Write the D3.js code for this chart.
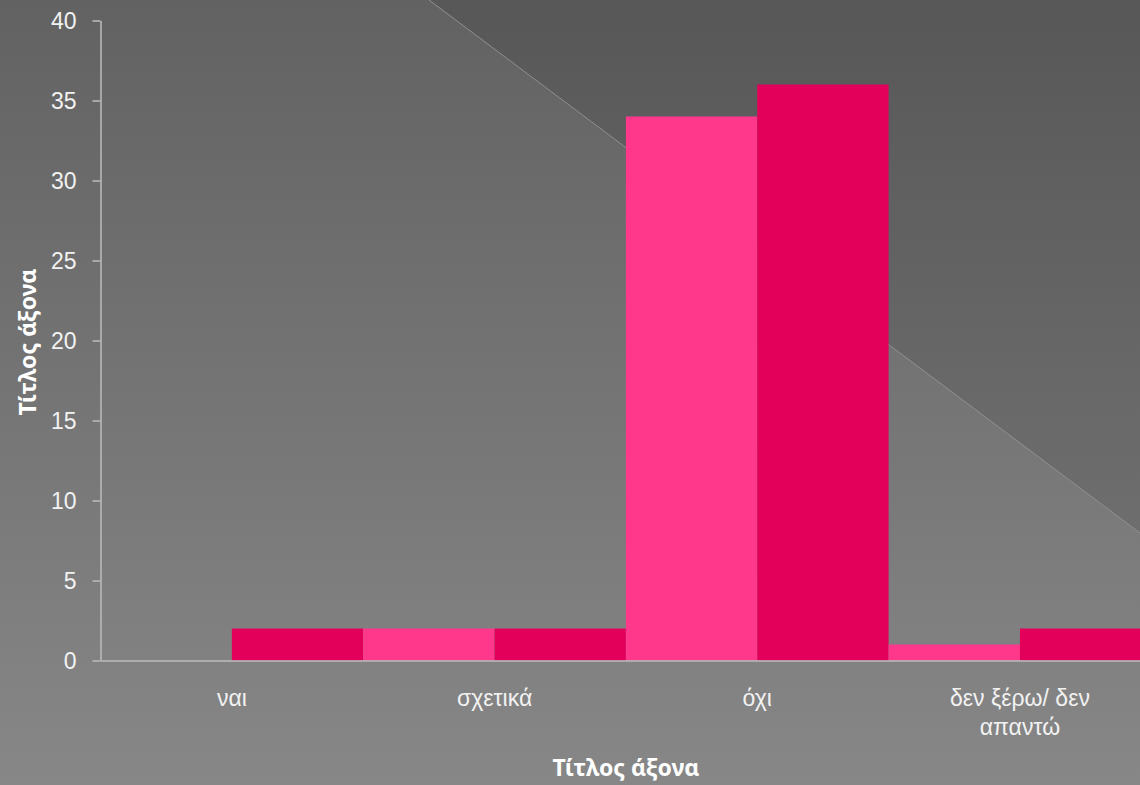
<!doctype html>
<html>
<head>
<meta charset="utf-8">
<style>
  body { margin: 0; background: #777; overflow: hidden; }
  svg { display: block; font-family: "Noto Sans", "DejaVu Sans", sans-serif; }
  .tick text { fill: #f2f2f2; font-size: 23px; }
  .domain, .tick line { stroke: #bdbdbd; stroke-width: 1.5px; }
  .title { fill: #ffffff; font-size: 23px; font-weight: bold; }
</style>
<script src="https://d3js.org/d3.v7.min.js"></script>
</head>
<body>
<div id="chart"></div>
<script>
var categories = ["ναι", "σχετικά", "όχι", "δεν ξέρω/ δεν απαντώ"];
var seriesA = [0, 2, 34, 1];
var seriesB = [2, 2, 36, 2];
var yTicks = [0, 5, 10, 15, 20, 25, 30, 35, 40];
var seriesNames = ["A", "B"];
var colors = ["#ff388c", "#e3005a"];

var W = 1140, H = 785;
var plotLeft = 100.5, bandW = 262.7, plotTop = 20.5, plotBottom = 660.5;

var svg = d3.select("#chart").append("svg")
  .attr("width", W).attr("height", H);

// background
var defs = svg.append("defs");
var bg = defs.append("linearGradient").attr("id", "bg")
  .attr("x1", 0).attr("y1", 0).attr("x2", 0).attr("y2", 1);
bg.append("stop").attr("offset", "0%").attr("stop-color", "#626262");
bg.append("stop").attr("offset", "100%").attr("stop-color", "#878787");
svg.append("rect").attr("width", W).attr("height", H).attr("fill", "url(#bg)");

// darker diagonal area top right
svg.append("polygon")
  .attr("points", "429,0 1140,0 1140,533")
  .attr("fill", "rgba(0,0,0,0.1)");
svg.append("line")
  .attr("x1", 429).attr("y1", 0).attr("x2", 1140).attr("y2", 533)
  .attr("stroke", "#909090").attr("stroke-width", 1);

var data = categories.map(function(c, i) {
  return { cat: c, values: [seriesA[i], seriesB[i]] };
});

var x = d3.scaleBand()
  .domain(categories)
  .range([plotLeft, plotLeft + bandW * categories.length])
  .padding(0);

var xs = d3.scaleBand()
  .domain(seriesNames)
  .range([0, x.bandwidth()])
  .padding(0);

var y = d3.scaleLinear()
  .domain([0, 40])
  .range([plotBottom, plotTop]);

// bars
var groups = svg.selectAll("g.cat")
  .data(data)
  .enter().append("g")
    .attr("class", "cat")
    .attr("transform", function(d) { return "translate(" + x(d.cat) + ",0)"; });

groups.selectAll("rect")
  .data(function(d) { return d.values.map(function(v, j) { return { s: seriesNames[j], v: v, j: j }; }); })
  .enter().append("rect")
    .attr("x", function(d) { return xs(d.s); })
    .attr("width", xs.bandwidth())
    .attr("y", function(d) { return y(d.v); })
    .attr("height", function(d) { return y(0) - y(d.v); })
    .attr("fill", function(d) { return colors[d.j]; });

// y axis
var yAxis = svg.append("g")
  .attr("transform", "translate(" + plotLeft + ",0)")
  .call(d3.axisLeft(y).tickValues(yTicks).tickSize(8).tickPadding(16).tickSizeOuter(0));
yAxis.selectAll(".tick text").attr("dy", "0.34em");

// x axis
var xAxis = svg.append("g")
  .attr("transform", "translate(0," + plotBottom + ")")
  .call(d3.axisBottom(x).tickSize(0).tickSizeOuter(0).tickPadding(29));
xAxis.selectAll(".tick text").call(wrap, 210);

function wrap(sel, width) {
  sel.each(function() {
    var t = d3.select(this);
    var words = t.text().split(/\s+/);
    var yAttr = t.attr("y"), dy = parseFloat(t.attr("dy"));
    t.text(null);
    var line = [], lineNo = 0;
    var tspan = t.append("tspan").attr("x", 0).attr("y", yAttr).attr("dy", dy + "em");
    words.forEach(function(w) {
      line.push(w);
      tspan.text(line.join(" "));
      if (tspan.node().getComputedTextLength() > width && line.length > 1) {
        line.pop();
        tspan.text(line.join(" "));
        line = [w];
        lineNo++;
        tspan = t.append("tspan").attr("x", 0).attr("y", yAttr)
          .attr("dy", (dy + lineNo * 1.27) + "em").text(w);
      }
    });
  });
}

// axis titles
svg.append("text")
  .attr("class", "title")
  .attr("x", plotLeft + bandW * 2)
  .attr("y", 776)
  .attr("text-anchor", "middle")
  .text("Τίτλος άξονα");

svg.append("text")
  .attr("class", "title")
  .attr("transform", "translate(36,342) rotate(-90)")
  .attr("text-anchor", "middle")
  .text("Τίτλος άξονα");
</script>
</body>
</html>
